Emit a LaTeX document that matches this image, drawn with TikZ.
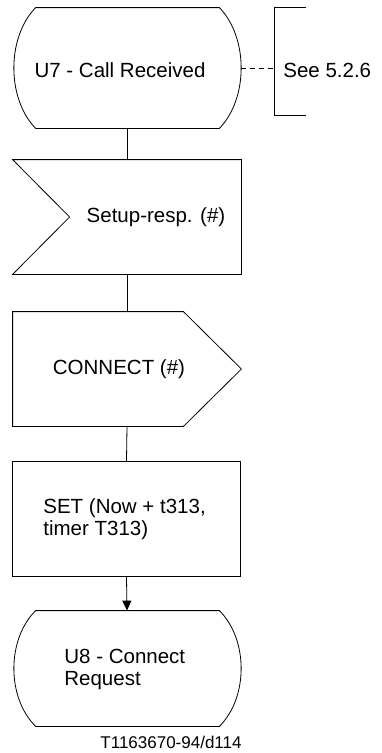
\documentclass[tikz,border=0pt]{standalone}
\usepackage{fontspec}
\setmainfont{Liberation Sans}
\usetikzlibrary{arrows.meta}
\begin{document}
\begin{tikzpicture}[x=1pt,y=-1pt,line width=0.8pt,
  frame/.style={draw=none,rectangle,inner sep=0pt,minimum width=228pt,minimum height=#1},
  txt/.style={inner sep=0pt,font=\fontsize{20.5}{22}\selectfont},
  ltxt/.style={txt,align=left,anchor=west},
  captxt/.style={inner sep=0pt,font=\fontsize{17}{19}\selectfont}]
\useasboundingbox (0,0) rectangle (381,753);
% nodes (frames)
\node[frame=120pt] (u7) at (127,68) {};
\node[frame=114pt] (sr) at (127,217) {};
\node[frame=114pt] (cn) at (127,369) {};
\node[frame=115pt,draw] (task) at (126.5,519) {};
\node[frame=115pt] (u8) at (127,668.5) {};
\node[draw=none,rectangle,inner sep=0pt,minimum width=31pt,minimum height=107pt] (cm) at (290.5,61.5) {};
\coordinate (cmj) at (275,68);
% outlines
\draw ([xshift=23pt]u7.north west) -- ([xshift=-22pt]u7.north east)
  .. controls +(29,30) and +(29,-30) .. ([xshift=-22pt]u7.south east)
  -- ([xshift=23pt]u7.south west)
  .. controls +(-29,-30) and +(-29,30) .. cycle;
\draw (sr.north west) -- (sr.north east) -- (sr.south east) -- (sr.south west)
  -- ([xshift=57pt]sr.west) -- cycle;
\draw (cn.north west) -- ([xshift=-58pt]cn.north east) -- (cn.east)
  -- ([xshift=-58pt]cn.south east) -- (cn.south west) -- cycle;
\draw ([xshift=23pt]u8.north west) -- ([xshift=-22pt]u8.north east)
  .. controls +(29,29) and +(29,-29) .. ([xshift=-22pt]u8.south east)
  -- ([xshift=23pt]u8.south west)
  .. controls +(-29,-29) and +(-29,29) .. cycle;
\draw (cm.north east) -- (cm.north west) -- (cm.south west) -- (cm.south east);
% texts
\node[txt] (t1) at (120,70) {U7 - Call Received};
\node[txt,anchor=west] (t0) at (283,70) {See 5.2.6};
\node[txt] (t2) at (156,217) {Setup-resp. (\#)};
\node[txt] (t3) at (119,369) {CONNECT (\#)};
\node[ltxt] (t4) at (43,519) {SET (Now + t313,\\timer T313)};
\node[ltxt] (t5) at (64,669) {U8 - Connect\\Request};
\node[captxt] (t6) at (171,742) {T1163670-94/d114};
% connectors
\draw[dash pattern=on 5pt off 4pt] (u7.east) -- (cmj);
\draw (u7.south) -- (sr.north);
\draw (sr.south) -- (cn.north);
\draw (cn.south) -- (task.north);
\draw[-{Triangle[length=10pt,width=9pt]}] (task.south) -- (u8.north);
\end{tikzpicture}
\end{document}
